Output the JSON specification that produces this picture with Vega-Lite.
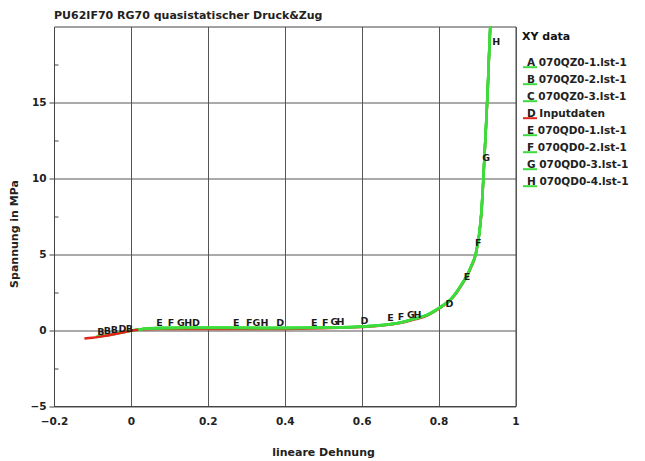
{
  "$schema": "https://vega.github.io/schema/vega-lite/v6.json",
  "width": 461.5,
  "height": 379.5,
  "autosize": "none",
  "padding": {"left": 54, "top": 26.5, "right": 129.5, "bottom": 55},
  "background": "white",
  "config": {
    "view": {"stroke": "#444", "strokeWidth": 1},
    "font": "DejaVu Sans",
    "legend": {
      "orient": "none",
      "legendX": 468,
      "legendY": 4,
      "titleFontSize": 11,
      "titleFontWeight": "bold",
      "titleColor": "#111",
      "titlePadding": 13.5,
      "titleFont": "DejaVu Sans",
      "labelFont": "DejaVu Sans",
      "labelFontSize": 10.5,
      "labelFontWeight": "bold",
      "labelColor": "#222",
      "labelOffset": -11,
      "rowPadding": -0.9,
      "symbolType": "M-1,0.6L1,0.6",
      "symbolSize": 196,
      "symbolStrokeWidth": 2,
      "labelLimit": 200
    }
  },
  "title": {
    "text": "PU62IF70 RG70 quasistatischer Druck&Zug",
    "anchor": "start",
    "frame": "group",
    "offset": -3,
    "baseline": "alphabetic",
    "fontSize": 11,
    "fontWeight": "bold",
    "color": "#222",
    "font": "DejaVu Sans"
  },
  "datasets": {
    "curves": [
      {"s": "A 070QZ0-1.lst-1", "x": -0.09, "y": -0.45}, {"s": "A 070QZ0-1.lst-1", "x": -0.06, "y": -0.33}, {"s": "A 070QZ0-1.lst-1", "x": -0.03, "y": -0.19}, {"s": "A 070QZ0-1.lst-1", "x": 0.0, "y": -0.04}, {"s": "A 070QZ0-1.lst-1", "x": 0.02, "y": 0.03},
      {"s": "B 070QZ0-2.lst-1", "x": -0.088, "y": -0.44}, {"s": "B 070QZ0-2.lst-1", "x": -0.06, "y": -0.32}, {"s": "B 070QZ0-2.lst-1", "x": -0.03, "y": -0.18}, {"s": "B 070QZ0-2.lst-1", "x": 0.0, "y": -0.03}, {"s": "B 070QZ0-2.lst-1", "x": 0.02, "y": 0.04},
      {"s": "C 070QZ0-3.lst-1", "x": -0.092, "y": -0.46}, {"s": "C 070QZ0-3.lst-1", "x": -0.06, "y": -0.34}, {"s": "C 070QZ0-3.lst-1", "x": -0.03, "y": -0.2}, {"s": "C 070QZ0-3.lst-1", "x": 0.0, "y": -0.05}, {"s": "C 070QZ0-3.lst-1", "x": 0.02, "y": 0.02},
      {"s": "D Inputdaten", "x": -0.121, "y": -0.55}, {"s": "D Inputdaten", "x": -0.1, "y": -0.5}, {"s": "D Inputdaten", "x": -0.08, "y": -0.43}, {"s": "D Inputdaten", "x": -0.065, "y": -0.37}, {"s": "D Inputdaten", "x": -0.045, "y": -0.28}, {"s": "D Inputdaten", "x": -0.03, "y": -0.2}, {"s": "D Inputdaten", "x": -0.015, "y": -0.12}, {"s": "D Inputdaten", "x": 0.0, "y": -0.05}, {"s": "D Inputdaten", "x": 0.02, "y": 0.03}, {"s": "D Inputdaten", "x": 0.04, "y": 0.06}, {"s": "D Inputdaten", "x": 0.1, "y": 0.07}, {"s": "D Inputdaten", "x": 0.2, "y": 0.07}, {"s": "D Inputdaten", "x": 0.3, "y": 0.07}, {"s": "D Inputdaten", "x": 0.4, "y": 0.08}, {"s": "D Inputdaten", "x": 0.5, "y": 0.12}, {"s": "D Inputdaten", "x": 0.6, "y": 0.2}, {"s": "D Inputdaten", "x": 0.654, "y": 0.3}, {"s": "D Inputdaten", "x": 0.7, "y": 0.46}, {"s": "D Inputdaten", "x": 0.741, "y": 0.72}, {"s": "D Inputdaten", "x": 0.77, "y": 0.96}, {"s": "D Inputdaten", "x": 0.793, "y": 1.28}, {"s": "D Inputdaten", "x": 0.815, "y": 1.66}, {"s": "D Inputdaten", "x": 0.83, "y": 1.96}, {"s": "D Inputdaten", "x": 0.848, "y": 2.5}, {"s": "D Inputdaten", "x": 0.862, "y": 3.05}, {"s": "D Inputdaten", "x": 0.874, "y": 3.55}, {"s": "D Inputdaten", "x": 0.884, "y": 4.1}, {"s": "D Inputdaten", "x": 0.897, "y": 5.0}, {"s": "D Inputdaten", "x": 0.906, "y": 6.35}, {"s": "D Inputdaten", "x": 0.912, "y": 7.9}, {"s": "D Inputdaten", "x": 0.916, "y": 9.7}, {"s": "D Inputdaten", "x": 0.92, "y": 11.7}, {"s": "D Inputdaten", "x": 0.924, "y": 13.7}, {"s": "D Inputdaten", "x": 0.928, "y": 15.9}, {"s": "D Inputdaten", "x": 0.931, "y": 17.9}, {"s": "D Inputdaten", "x": 0.935, "y": 20.3},
      {"s": "E 070QD0-1.lst-1", "x": 0.02, "y": 0.02}, {"s": "E 070QD0-1.lst-1", "x": 0.04, "y": 0.1}, {"s": "E 070QD0-1.lst-1", "x": 0.08, "y": 0.14}, {"s": "E 070QD0-1.lst-1", "x": 0.15, "y": 0.15}, {"s": "E 070QD0-1.lst-1", "x": 0.25, "y": 0.15}, {"s": "E 070QD0-1.lst-1", "x": 0.35, "y": 0.14}, {"s": "E 070QD0-1.lst-1", "x": 0.45, "y": 0.15}, {"s": "E 070QD0-1.lst-1", "x": 0.55, "y": 0.18}, {"s": "E 070QD0-1.lst-1", "x": 0.6, "y": 0.23}, {"s": "E 070QD0-1.lst-1", "x": 0.654, "y": 0.33}, {"s": "E 070QD0-1.lst-1", "x": 0.7, "y": 0.5}, {"s": "E 070QD0-1.lst-1", "x": 0.741, "y": 0.77}, {"s": "E 070QD0-1.lst-1", "x": 0.77, "y": 1.0}, {"s": "E 070QD0-1.lst-1", "x": 0.793, "y": 1.32}, {"s": "E 070QD0-1.lst-1", "x": 0.815, "y": 1.7}, {"s": "E 070QD0-1.lst-1", "x": 0.83, "y": 1.98}, {"s": "E 070QD0-1.lst-1", "x": 0.848, "y": 2.55}, {"s": "E 070QD0-1.lst-1", "x": 0.862, "y": 3.1}, {"s": "E 070QD0-1.lst-1", "x": 0.874, "y": 3.6}, {"s": "E 070QD0-1.lst-1", "x": 0.884, "y": 4.17}, {"s": "E 070QD0-1.lst-1", "x": 0.897, "y": 5.07}, {"s": "E 070QD0-1.lst-1", "x": 0.906, "y": 6.4}, {"s": "E 070QD0-1.lst-1", "x": 0.912, "y": 8.0}, {"s": "E 070QD0-1.lst-1", "x": 0.916, "y": 9.8}, {"s": "E 070QD0-1.lst-1", "x": 0.92, "y": 11.8}, {"s": "E 070QD0-1.lst-1", "x": 0.924, "y": 13.8}, {"s": "E 070QD0-1.lst-1", "x": 0.928, "y": 16.0}, {"s": "E 070QD0-1.lst-1", "x": 0.931, "y": 18.0}, {"s": "E 070QD0-1.lst-1", "x": 0.935, "y": 20.4},
      {"s": "F 070QD0-2.lst-1", "x": 0.02, "y": 0.03}, {"s": "F 070QD0-2.lst-1", "x": 0.04, "y": 0.11}, {"s": "F 070QD0-2.lst-1", "x": 0.08, "y": 0.15}, {"s": "F 070QD0-2.lst-1", "x": 0.15, "y": 0.16}, {"s": "F 070QD0-2.lst-1", "x": 0.25, "y": 0.16}, {"s": "F 070QD0-2.lst-1", "x": 0.35, "y": 0.15}, {"s": "F 070QD0-2.lst-1", "x": 0.45, "y": 0.16}, {"s": "F 070QD0-2.lst-1", "x": 0.55, "y": 0.19}, {"s": "F 070QD0-2.lst-1", "x": 0.6, "y": 0.24}, {"s": "F 070QD0-2.lst-1", "x": 0.654, "y": 0.34}, {"s": "F 070QD0-2.lst-1", "x": 0.7, "y": 0.51}, {"s": "F 070QD0-2.lst-1", "x": 0.741, "y": 0.78}, {"s": "F 070QD0-2.lst-1", "x": 0.77, "y": 1.01}, {"s": "F 070QD0-2.lst-1", "x": 0.793, "y": 1.33}, {"s": "F 070QD0-2.lst-1", "x": 0.815, "y": 1.71}, {"s": "F 070QD0-2.lst-1", "x": 0.83, "y": 2.0}, {"s": "F 070QD0-2.lst-1", "x": 0.848, "y": 2.57}, {"s": "F 070QD0-2.lst-1", "x": 0.862, "y": 3.12}, {"s": "F 070QD0-2.lst-1", "x": 0.874, "y": 3.62}, {"s": "F 070QD0-2.lst-1", "x": 0.884, "y": 4.2}, {"s": "F 070QD0-2.lst-1", "x": 0.897, "y": 5.1}, {"s": "F 070QD0-2.lst-1", "x": 0.906, "y": 6.45}, {"s": "F 070QD0-2.lst-1", "x": 0.912, "y": 8.05}, {"s": "F 070QD0-2.lst-1", "x": 0.916, "y": 9.85}, {"s": "F 070QD0-2.lst-1", "x": 0.92, "y": 11.85}, {"s": "F 070QD0-2.lst-1", "x": 0.924, "y": 13.85}, {"s": "F 070QD0-2.lst-1", "x": 0.928, "y": 16.05}, {"s": "F 070QD0-2.lst-1", "x": 0.931, "y": 18.05}, {"s": "F 070QD0-2.lst-1", "x": 0.935, "y": 20.45},
      {"s": "G 070QD0-3.lst-1", "x": 0.02, "y": 0.02}, {"s": "G 070QD0-3.lst-1", "x": 0.04, "y": 0.1}, {"s": "G 070QD0-3.lst-1", "x": 0.08, "y": 0.13}, {"s": "G 070QD0-3.lst-1", "x": 0.15, "y": 0.14}, {"s": "G 070QD0-3.lst-1", "x": 0.25, "y": 0.14}, {"s": "G 070QD0-3.lst-1", "x": 0.35, "y": 0.13}, {"s": "G 070QD0-3.lst-1", "x": 0.45, "y": 0.14}, {"s": "G 070QD0-3.lst-1", "x": 0.55, "y": 0.17}, {"s": "G 070QD0-3.lst-1", "x": 0.6, "y": 0.22}, {"s": "G 070QD0-3.lst-1", "x": 0.654, "y": 0.32}, {"s": "G 070QD0-3.lst-1", "x": 0.7, "y": 0.49}, {"s": "G 070QD0-3.lst-1", "x": 0.741, "y": 0.76}, {"s": "G 070QD0-3.lst-1", "x": 0.77, "y": 0.99}, {"s": "G 070QD0-3.lst-1", "x": 0.793, "y": 1.31}, {"s": "G 070QD0-3.lst-1", "x": 0.815, "y": 1.69}, {"s": "G 070QD0-3.lst-1", "x": 0.83, "y": 1.97}, {"s": "G 070QD0-3.lst-1", "x": 0.848, "y": 2.53}, {"s": "G 070QD0-3.lst-1", "x": 0.862, "y": 3.08}, {"s": "G 070QD0-3.lst-1", "x": 0.874, "y": 3.58}, {"s": "G 070QD0-3.lst-1", "x": 0.884, "y": 4.15}, {"s": "G 070QD0-3.lst-1", "x": 0.897, "y": 5.05}, {"s": "G 070QD0-3.lst-1", "x": 0.906, "y": 6.38}, {"s": "G 070QD0-3.lst-1", "x": 0.912, "y": 7.98}, {"s": "G 070QD0-3.lst-1", "x": 0.916, "y": 9.78}, {"s": "G 070QD0-3.lst-1", "x": 0.92, "y": 11.78}, {"s": "G 070QD0-3.lst-1", "x": 0.924, "y": 13.78}, {"s": "G 070QD0-3.lst-1", "x": 0.928, "y": 15.98}, {"s": "G 070QD0-3.lst-1", "x": 0.931, "y": 17.98}, {"s": "G 070QD0-3.lst-1", "x": 0.935, "y": 20.38},
      {"s": "H 070QD0-4.lst-1", "x": 0.02, "y": 0.03}, {"s": "H 070QD0-4.lst-1", "x": 0.04, "y": 0.1}, {"s": "H 070QD0-4.lst-1", "x": 0.08, "y": 0.14}, {"s": "H 070QD0-4.lst-1", "x": 0.15, "y": 0.15}, {"s": "H 070QD0-4.lst-1", "x": 0.25, "y": 0.15}, {"s": "H 070QD0-4.lst-1", "x": 0.35, "y": 0.14}, {"s": "H 070QD0-4.lst-1", "x": 0.45, "y": 0.15}, {"s": "H 070QD0-4.lst-1", "x": 0.55, "y": 0.18}, {"s": "H 070QD0-4.lst-1", "x": 0.6, "y": 0.23}, {"s": "H 070QD0-4.lst-1", "x": 0.654, "y": 0.33}, {"s": "H 070QD0-4.lst-1", "x": 0.7, "y": 0.5}, {"s": "H 070QD0-4.lst-1", "x": 0.741, "y": 0.77}, {"s": "H 070QD0-4.lst-1", "x": 0.77, "y": 1.0}, {"s": "H 070QD0-4.lst-1", "x": 0.793, "y": 1.32}, {"s": "H 070QD0-4.lst-1", "x": 0.815, "y": 1.7}, {"s": "H 070QD0-4.lst-1", "x": 0.83, "y": 1.99}, {"s": "H 070QD0-4.lst-1", "x": 0.848, "y": 2.56}, {"s": "H 070QD0-4.lst-1", "x": 0.862, "y": 3.11}, {"s": "H 070QD0-4.lst-1", "x": 0.874, "y": 3.61}, {"s": "H 070QD0-4.lst-1", "x": 0.884, "y": 4.18}, {"s": "H 070QD0-4.lst-1", "x": 0.897, "y": 5.08}, {"s": "H 070QD0-4.lst-1", "x": 0.906, "y": 6.42}, {"s": "H 070QD0-4.lst-1", "x": 0.912, "y": 8.02}, {"s": "H 070QD0-4.lst-1", "x": 0.916, "y": 9.82}, {"s": "H 070QD0-4.lst-1", "x": 0.92, "y": 11.82}, {"s": "H 070QD0-4.lst-1", "x": 0.924, "y": 13.82}, {"s": "H 070QD0-4.lst-1", "x": 0.928, "y": 16.02}, {"s": "H 070QD0-4.lst-1", "x": 0.931, "y": 18.02}, {"s": "H 070QD0-4.lst-1", "x": 0.935, "y": 20.42}
    ],
    "labels": [
      {"t": "B", "x": -0.078, "y": -0.1}, {"t": "B", "x": -0.061, "y": -0.05}, {"t": "B", "x": -0.043, "y": 0.0}, {"t": "D", "x": -0.022, "y": 0.05}, {"t": "B", "x": -0.004, "y": 0.1},
      {"t": "E", "x": 0.074, "y": 0.46}, {"t": "F", "x": 0.104, "y": 0.46}, {"t": "G", "x": 0.13, "y": 0.46}, {"t": "H", "x": 0.149, "y": 0.46}, {"t": "D", "x": 0.169, "y": 0.46},
      {"t": "E", "x": 0.274, "y": 0.46}, {"t": "F", "x": 0.308, "y": 0.46}, {"t": "G", "x": 0.326, "y": 0.46}, {"t": "H", "x": 0.347, "y": 0.46}, {"t": "D", "x": 0.388, "y": 0.46},
      {"t": "E", "x": 0.477, "y": 0.48}, {"t": "F", "x": 0.505, "y": 0.5}, {"t": "G", "x": 0.529, "y": 0.52}, {"t": "H", "x": 0.545, "y": 0.54}, {"t": "D", "x": 0.607, "y": 0.6},
      {"t": "E", "x": 0.675, "y": 0.77}, {"t": "F", "x": 0.702, "y": 0.85}, {"t": "G", "x": 0.728, "y": 0.97}, {"t": "H", "x": 0.745, "y": 1.0},
      {"t": "D", "x": 0.828, "y": 1.7}, {"t": "E", "x": 0.874, "y": 3.49}, {"t": "F", "x": 0.903, "y": 5.73}, {"t": "G", "x": 0.924, "y": 11.33}, {"t": "H", "x": 0.95, "y": 18.97}
    ]
  },
  "layer": [
    {
      "data": {"name": "curves"},
      "mark": {"type": "line", "clip": true, "strokeWidth": 2.5, "interpolate": "monotone"},
      "encoding": {
        "x": {
          "field": "x", "type": "quantitative",
          "scale": {"domain": [-0.2, 1], "nice": false, "zero": false},
          "axis": {
            "title": "lineare Dehnung",
            "values": [-0.2, -0.1, 0, 0.1, 0.2, 0.3, 0.4, 0.5, 0.6, 0.7, 0.8, 0.9, 1],
            "labelExpr": "abs(round(datum.value*10)) % 2 == 0 ? datum.label : ''",
            "format": "~g",
            "grid": true,
            "gridColor": {"condition": {"test": "abs(round(datum.value*10)) % 2 == 0", "value": "#555"}, "value": "rgba(0,0,0,0)"},
            "gridWidth": 1,
            "tickColor": "#444",
            "tickSize": {"condition": {"test": "abs(round(datum.value*10)) % 2 == 0", "value": 0}, "value": -4},
            "labelPadding": 10,
            "domainColor": "#444",
            "labelFont": "DejaVu Sans",
            "labelFontSize": 10.5,
            "labelFontWeight": "bold",
            "labelColor": "#222",
            "labelFlush": false,
            "titleFont": "DejaVu Sans",
            "titleFontSize": 11,
            "titleFontWeight": "bold",
            "titleColor": "#222",
            "titleX": 269,
            "titleY": 46,
            "titleAlign": "center",
            "titleBaseline": "middle"
          }
        },
        "y": {
          "field": "y", "type": "quantitative",
          "scale": {"domain": [-5, 20], "nice": false, "zero": false},
          "axis": {
            "title": "Spannung in MPa",
            "values": [-5, -2.5, 0, 2.5, 5, 7.5, 10, 12.5, 15, 17.5],
            "labelExpr": "datum.value % 5 == 0 ? datum.label : ''",
            "grid": true,
            "gridColor": {"condition": {"test": "datum.value % 5 == 0", "value": "#555"}, "value": "rgba(0,0,0,0)"},
            "gridWidth": 1,
            "tickColor": "#444",
            "tickSize": {"condition": {"test": "datum.value % 5 == 0", "value": 5}, "value": -4},
            "labelPadding": 3,
            "domainColor": "#444",
            "labelFont": "DejaVu Sans",
            "labelFontSize": 10.5,
            "labelFontWeight": "bold",
            "labelColor": "#222",
            "labelFlush": false,
            "titleFont": "DejaVu Sans",
            "titleFontSize": 11,
            "titleFontWeight": "bold",
            "titleColor": "#222",
            "titleX": -40,
            "titleY": 207,
            "titleAlign": "center",
            "titleBaseline": "middle",
            "titleAngle": -90
          }
        },
        "color": {
          "field": "s", "type": "nominal",
          "scale": {
            "domain": ["A 070QZ0-1.lst-1", "B 070QZ0-2.lst-1", "C 070QZ0-3.lst-1", "D Inputdaten", "E 070QD0-1.lst-1", "F 070QD0-2.lst-1", "G 070QD0-3.lst-1", "H 070QD0-4.lst-1"],
            "range": ["#3ddc3d", "#3ddc3d", "#3ddc3d", "#e3241c", "#3ddc3d", "#3ddc3d", "#3ddc3d", "#3ddc3d"]
          },
          "legend": {"title": "XY data"}
        }
      }
    },
    {
      "data": {"name": "labels"},
      "mark": {"type": "text", "clip": true, "font": "DejaVu Sans", "fontSize": 9.5, "fontWeight": "bold", "color": "#1a1a1a", "baseline": "middle", "align": "center"},
      "encoding": {
        "x": {"field": "x", "type": "quantitative"},
        "y": {"field": "y", "type": "quantitative"},
        "text": {"field": "t"}
      }
    }
  ]
}
